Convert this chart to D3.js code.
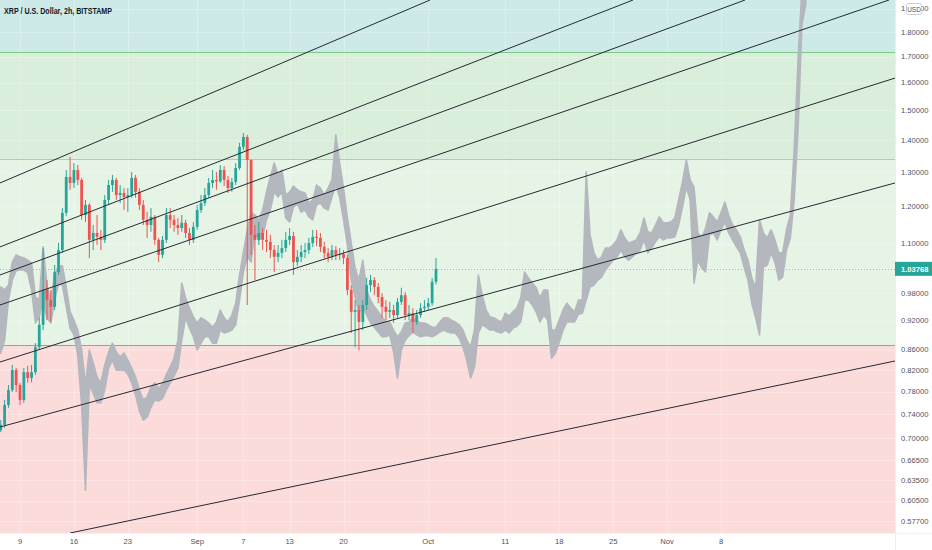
<!DOCTYPE html>
<html><head><meta charset="utf-8">
<script src="https://cdn.jsdelivr.net/npm/d3@7/dist/d3.min.js"></script>
<style>html,body{margin:0;padding:0;background:#fff}svg{display:block}</style>
</head><body>
<svg id="c" width="932" height="550"></svg>
<script>
// ---------------- DATA ----------------
const title = "XRP / U.S. Dollar, 2h, BITSTAMP";
const barStart = Date.UTC(2021, 7, 6, 12);   // first bar time
const barStepHours = 12;
const firstOpen = 0.713;
const closes = [0.722,0.756,0.783,0.820,0.792,0.765,0.816,0.805,0.816,0.865,
 0.911,0.988,0.965,0.950,1.030,1.084,1.182,1.285,1.267,1.306,
 1.276,1.176,1.204,1.110,1.128,1.118,1.110,1.218,1.261,1.276,
 1.232,1.238,1.226,1.232,1.282,1.241,1.204,1.163,1.149,1.171,
 1.110,1.072,1.110,1.176,1.163,1.149,1.141,1.155,1.128,1.110,
 1.144,1.190,1.209,1.232,1.267,1.276,1.272,1.306,1.276,1.252,
 1.270,1.312,1.378,1.410,1.337,1.123,1.110,1.128,1.110,1.105,
 1.084,1.067,1.077,1.089,1.110,1.120,1.054,1.067,1.079,1.084,
 1.102,1.118,1.115,1.092,1.077,1.067,1.084,1.072,1.074,1.064,
 0.988,0.939,0.943,0.917,0.954,0.999,1.011,0.995,0.972,0.950,
 0.939,0.943,0.932,0.961,0.976,0.932,0.936,0.917,0.932,0.947,
 0.950,0.958,1.007,1.03768];
const highs = [0.730,0.765,0.792,0.830,0.824,0.796,0.824,0.828,0.830,0.873,
 0.926,1.089,1.011,0.988,1.047,1.102,1.195,1.306,1.346,1.327,
 1.321,1.282,1.218,1.209,1.149,1.176,1.136,1.232,1.276,1.291,
 1.282,1.261,1.252,1.252,1.300,1.291,1.252,1.218,1.185,1.195,
 1.176,1.115,1.120,1.195,1.195,1.176,1.168,1.176,1.163,1.141,
 1.157,1.204,1.232,1.252,1.282,1.306,1.300,1.321,1.318,1.288,
 1.282,1.327,1.391,1.423,1.417,1.337,1.149,1.157,1.141,1.136,
 1.123,1.097,1.097,1.110,1.131,1.141,1.131,1.084,1.097,1.102,
 1.115,1.136,1.136,1.128,1.105,1.089,1.097,1.094,1.089,1.084,
 1.072,0.999,0.965,0.954,0.965,1.016,1.023,1.018,1.004,0.981,
 0.965,0.961,0.954,0.970,0.993,0.983,0.954,0.947,0.943,0.958,
 0.965,0.970,1.016,1.064];
const lows = [0.710,0.717,0.751,0.779,0.779,0.756,0.760,0.796,0.797,0.811,
 0.859,0.900,0.921,0.917,0.943,1.023,1.077,1.173,1.247,1.252,
 1.261,1.163,1.157,1.064,1.084,1.097,1.084,1.102,1.204,1.241,
 1.218,1.209,1.190,1.185,1.224,1.224,1.190,1.149,1.115,1.131,
 1.097,1.054,1.064,1.102,1.141,1.131,1.123,1.131,1.115,1.097,
 1.102,1.136,1.182,1.201,1.224,1.252,1.247,1.267,1.258,1.238,
 1.241,1.261,1.306,1.368,0.954,1.072,1.011,1.097,1.084,1.079,
 1.064,1.030,1.054,1.064,1.079,1.097,1.023,1.045,1.054,1.064,
 1.074,1.092,1.094,1.079,1.064,1.054,1.059,1.059,1.059,1.049,
 0.976,0.894,0.865,0.859,0.900,0.943,0.983,0.976,0.958,0.926,
 0.921,0.926,0.915,0.926,0.954,0.921,0.921,0.894,0.911,0.926,
 0.939,0.943,0.952,1.001];
// grey "bars pattern" projection (high / low per 12h step, same start)
const patternHigh = [0.995,0.988,0.999,1.054,1.072,1.067,1.064,1.059,1.052,0.972,
 0.965,1.092,0.999,0.965,1.023,1.045,1.045,0.995,0.939,0.921,
 0.900,0.859,0.792,0.859,0.834,0.807,0.796,0.830,0.855,0.873,
 0.855,0.845,0.853,0.839,0.824,0.807,0.783,0.765,0.770,0.788,
 0.796,0.786,0.794,0.812,0.826,0.843,0.879,1.004,0.970,0.947,
 0.928,0.915,0.926,0.921,0.915,0.906,0.917,0.943,0.926,0.917,
 0.932,0.958,1.023,1.079,1.136,1.184,1.176,1.163,1.190,1.241,
 1.285,1.327,1.291,1.306,1.232,1.241,1.258,1.247,1.241,1.238,
 1.209,1.218,1.261,1.252,1.232,1.252,1.276,1.417,1.327,1.252,
 1.168,1.102,1.040,1.011,1.059,0.988,0.965,0.950,0.939,0.928,
 0.917,0.917,0.900,0.886,0.896,0.915,0.917,0.926,0.919,0.915,
 0.915,0.911,0.906,0.906,0.917,0.926,0.926,0.921,0.917,0.911,
 0.900,0.879,0.865,0.900,1.023,0.976,0.943,0.928,0.926,0.921,
 0.917,0.936,0.930,0.939,0.947,0.970,1.030,1.016,1.004,0.993,
 0.970,0.988,0.988,0.900,0.900,0.921,0.943,0.958,0.947,0.939,
 0.965,0.965,1.300,1.123,1.077,1.059,1.067,1.089,1.089,1.097,
 1.110,1.136,1.115,1.102,1.105,1.110,1.128,1.168,1.131,1.128,
 1.149,1.171,1.155,1.155,1.157,1.168,1.218,1.270,1.337,1.276,
 1.255,1.128,1.115,1.141,1.182,1.171,1.157,1.182,1.212,1.176,
 1.149,1.136,1.118,1.084,1.059,1.016,0.993,1.163,1.128,1.115,
 1.136,1.110,1.077,1.077,1.136,1.176,1.368,1.687,1.985,1.985];
const patternLow = [0.853,0.879,0.965,1.011,1.033,1.035,1.035,1.028,0.988,0.915,
 0.928,0.965,0.926,0.915,0.965,1.002,0.999,0.950,0.904,0.890,
 0.849,0.756,0.620,0.792,0.777,0.760,0.760,0.783,0.824,0.839,
 0.820,0.820,0.820,0.812,0.796,0.774,0.746,0.730,0.735,0.752,
 0.765,0.763,0.768,0.783,0.796,0.809,0.824,0.879,0.926,0.904,
 0.886,0.859,0.873,0.886,0.886,0.873,0.873,0.900,0.894,0.896,
 0.900,0.911,0.965,1.030,1.067,1.054,1.131,1.110,1.118,1.163,
 1.190,1.241,1.226,1.241,1.168,1.157,1.198,1.207,1.184,1.190,
 1.171,1.163,1.204,1.209,1.195,1.190,1.226,1.261,1.226,1.163,
 1.097,1.011,0.972,0.936,0.954,0.932,0.915,0.906,0.896,0.886,
 0.886,0.890,0.855,0.805,0.859,0.879,0.888,0.896,0.890,0.886,
 0.888,0.888,0.886,0.890,0.896,0.900,0.896,0.894,0.894,0.884,
 0.865,0.839,0.805,0.826,0.894,0.911,0.906,0.900,0.900,0.896,
 0.894,0.900,0.894,0.904,0.908,0.917,0.965,0.965,0.954,0.939,
 0.917,0.932,0.921,0.843,0.853,0.875,0.900,0.917,0.917,0.917,
 0.934,0.936,0.965,0.995,0.999,1.011,1.018,1.035,1.047,1.059,
 1.067,1.084,1.067,1.059,1.067,1.077,1.084,1.110,1.077,1.089,
 1.105,1.118,1.110,1.115,1.115,1.118,1.149,1.198,1.255,1.218,
 1.004,1.059,1.040,1.030,1.123,1.128,1.110,1.136,1.157,1.128,
 1.110,1.092,1.077,1.042,1.011,0.958,0.926,0.890,1.042,1.047,
 1.077,1.054,1.011,1.018,1.084,1.115,1.218,1.433,1.829,1.917];
// horizontal zone boundaries (price)
const zoneEdges = [1.718, 1.340, 0.869];
// fan of trend lines: [start time, start price, end time, end price]
const fanLines = [
 ["2021-08-06T09:41Z", 1.267,  "2021-10-01T05:30Z", 1.939],
 ["2021-08-06T09:41Z", 1.092,  "2021-10-27T14:00Z", 1.939],
 ["2021-08-06T09:41Z", 1.023,  "2021-11-11T03:00Z", 1.939],
 ["2021-08-06T09:41Z", 0.954,  "2021-11-29T19:30Z", 1.939],
 ["2021-08-06T09:41Z", 0.8355, "2021-11-30T14:00Z", 1.617],
 ["2021-08-06T09:41Z", 0.7183, "2021-11-30T14:00Z", 1.267],
 ["2021-08-15T11:47Z", 0.5614, "2021-11-30T14:00Z", 0.8375]
];
const yTicks = [0.577,0.605,0.635,0.665,0.70,0.74,0.78,0.82,0.86,0.92,0.98,1.04,1.10,1.20,1.30,1.40,1.50,1.60,1.70,1.80,1.90];
const xTickDates = ["2021-08-09","2021-08-16","2021-08-23","2021-09-01","2021-09-07","2021-09-13","2021-09-20","2021-10-01","2021-10-11","2021-10-18","2021-10-25","2021-11-01","2021-11-08"];
const xTickLabels = ["9","16","23","Sep","7","13","20","Oct","11","18","25","Nov","8"];
const lastPrice = 1.03768;
const currency = "USD";

// ---------------- LAYOUT / STYLE ----------------
const PW = 895, PH = 533;
const svg = d3.select("#c");
const x = d3.scaleUtc().domain([new Date(Date.UTC(2021,7,9)), new Date(Date.UTC(2021,10,8))]).range([20, 721]);
const y = d3.scaleLog().domain([0.5614, 1.939]).range([PH, 0]);
const barTime = i => new Date(barStart + i * barStepHours * 3600e3);
const font = "'Liberation Sans', Arial, sans-serif";

svg.append("rect").attr("width", 932).attr("height", 550).attr("fill", "#ffffff");
svg.append("defs").append("clipPath").attr("id", "clip")
  .append("rect").attr("width", PW).attr("height", PH);
const g = svg.append("g").attr("clip-path", "url(#clip)");

// zones
const bandColors = ["#cde9e8", "#d9eedb", "#e6f4e6", "#fcdbdb"];
const bandTops = [0, y(zoneEdges[0]), y(zoneEdges[1]), y(zoneEdges[2])];
const bandBottoms = [y(zoneEdges[0]), y(zoneEdges[1]), y(zoneEdges[2]), PH];
bandColors.forEach((c, k) => {
  g.append("rect").attr("x", 0).attr("width", PW)
    .attr("y", bandTops[k]).attr("height", bandBottoms[k] - bandTops[k]).attr("fill", c);
});

// faint grid
g.append("g").selectAll("line").data(yTicks).join("line")
  .attr("x1", 0).attr("x2", PW).attr("y1", d => Math.round(y(d)) + 0.5).attr("y2", d => Math.round(y(d)) + 0.5)
  .attr("stroke", "#ffffff").attr("stroke-opacity", 0.28);
g.append("g").selectAll("line").data(xTickDates).join("line")
  .attr("y1", 0).attr("y2", PH).attr("x1", d => Math.round(x(new Date(d))) + 0.5).attr("x2", d => Math.round(x(new Date(d))) + 0.5)
  .attr("stroke", "#ffffff").attr("stroke-opacity", 0.28);

// zone border lines
const edgeColors = ["#7cc98a", "#a9cfae", "#ee7f6f"];
zoneEdges.forEach((p, k) => {
  g.append("line").attr("x1", 0).attr("x2", PW)
    .attr("y1", Math.round(y(p)) + 0.5).attr("y2", Math.round(y(p)) + 0.5)
    .attr("stroke", edgeColors[k]).attr("stroke-width", 1);
});

// price line (dotted)
g.append("line").attr("x1", 0).attr("x2", PW)
  .attr("y1", Math.round(y(lastPrice)) + 0.5).attr("y2", Math.round(y(lastPrice)) + 0.5)
  .attr("stroke", "#26a69a").attr("stroke-opacity", 0.55).attr("stroke-dasharray", "1,2");

// grey projection
const greyArea = d3.area()
  .x((d, i) => x(barTime(i)))
  .y0((d, i) => y(patternLow[i]))
  .y1((d, i) => y(patternHigh[i]));
g.append("path").datum(patternHigh).attr("d", greyArea)
  .attr("fill", "#b4b7be").attr("stroke", "#b4b7be").attr("stroke-width", 1.6)
  .attr("stroke-linejoin", "round");

// candles
const candles = closes.map((c, i) => ({
  t: barTime(i), o: i === 0 ? firstOpen : closes[i - 1], c, h: highs[i], l: lows[i]
}));
const up = "#26a69a", dn = "#ef5350";
const cg = g.append("g");
cg.selectAll("line").data(candles).join("line")
  .attr("x1", d => x(d.t)).attr("x2", d => x(d.t))
  .attr("y1", d => y(d.h)).attr("y2", d => y(d.l))
  .attr("stroke", d => d.c >= d.o ? up : dn).attr("stroke-width", 1);
cg.selectAll("rect").data(candles).join("rect")
  .attr("x", d => x(d.t) - 1.4).attr("width", 2.8)
  .attr("y", d => y(Math.max(d.o, d.c)))
  .attr("height", d => Math.max(1, Math.abs(y(d.o) - y(d.c))))
  .attr("fill", d => d.c >= d.o ? up : dn);

// fan lines
g.append("g").selectAll("line").data(fanLines).join("line")
  .attr("x1", d => x(new Date(d[0]))).attr("y1", d => y(d[1]))
  .attr("x2", d => x(new Date(d[2]))).attr("y2", d => y(d[3]))
  .attr("stroke", "#262a33").attr("stroke-width", 1);

// title
svg.append("text").attr("x", 4).attr("y", 14).text(title)
  .attr("font-family", font).attr("font-size", 9.5).attr("font-weight", "bold")
  .attr("fill", "#131722").attr("textLength", 108).attr("lengthAdjust", "spacingAndGlyphs");

// right axis
svg.append("line").attr("x1", PW + 0.5).attr("x2", PW + 0.5).attr("y1", 0).attr("y2", 550)
  .attr("stroke", "#eceef2");
svg.append("g").selectAll("text").data(yTicks).join("text")
  .attr("x", 901).attr("y", d => y(d)).attr("dy", "0.35em")
  .text(d => d.toFixed(5))
  .attr("font-family", font).attr("font-size", 7.6).attr("fill", "#50535e");

// last price label
const ly = y(lastPrice);
svg.append("rect").attr("x", PW).attr("y", ly - 7).attr("width", 37).attr("height", 14).attr("fill", "#26a69a");
svg.append("text").attr("x", 901).attr("y", ly).attr("dy", "0.36em").text(lastPrice.toFixed(5))
  .attr("font-family", font).attr("font-size", 7.6).attr("font-weight", "bold").attr("fill", "#ffffff");

// currency badge
svg.append("rect").attr("x", 906.5).attr("y", 3.5).attr("width", 15).attr("height", 11).attr("rx", 2)
  .attr("fill", "#ffffff").attr("stroke", "#c9ccd3");
svg.append("text").attr("x", 914).attr("y", 9.3).attr("dy", "0.35em").attr("text-anchor", "middle").text(currency)
  .attr("font-family", font).attr("font-size", 6.5).attr("fill", "#50535e");

// bottom axis
svg.append("line").attr("x1", 0).attr("x2", 932).attr("y1", PH + 0.5).attr("y2", PH + 0.5).attr("stroke", "#f3f4f6");
svg.append("g").selectAll("text").data(xTickDates).join("text")
  .attr("x", d => x(new Date(d))).attr("y", 541.5).attr("dy", "0.35em").attr("text-anchor", "middle")
  .text((d, i) => xTickLabels[i])
  .attr("font-family", font).attr("font-size", 7.6).attr("fill", "#50535e");
</script>
</body></html>
